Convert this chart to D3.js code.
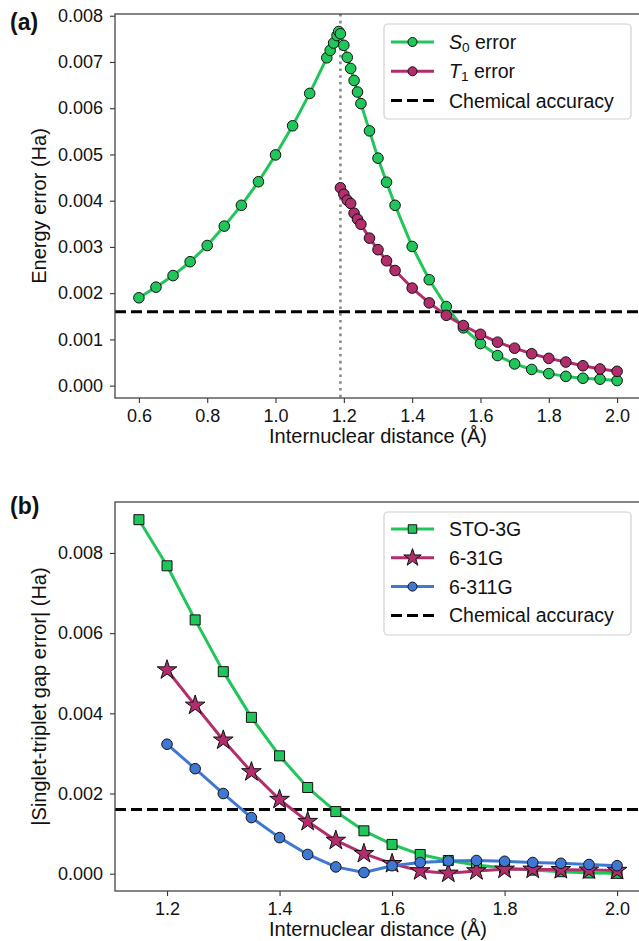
<!DOCTYPE html>
<html>
<head>
<meta charset="utf-8">
<script src="https://cdn.jsdelivr.net/npm/d3@7"></script>
<style>
  html, body { margin: 0; padding: 0; background: #fff; }
  svg { display: block; font-family: "Liberation Sans", Arial, Helvetica, sans-serif; }
</style>
</head>
<body>
<svg id="fig" width="639" height="941"></svg>
<script>
// ---- Panel (a): energy errors of S0 and T1 vs. bond length ----
const s0Dist = [0.60, 0.65, 0.70, 0.75, 0.80, 0.85, 0.90, 0.95, 1.00, 1.05, 1.10, 1.15,
  1.16, 1.17, 1.18, 1.185, 1.19, 1.20, 1.21, 1.22, 1.23, 1.24, 1.25, 1.275, 1.30, 1.325, 1.35,
  1.40, 1.45, 1.50, 1.55, 1.60, 1.65, 1.70, 1.75, 1.80, 1.85, 1.90, 1.95, 2.00];
const s0Err = [0.00190, 0.00213, 0.00238, 0.00268, 0.00303, 0.00345, 0.00390, 0.00441, 0.00499, 0.00562, 0.00632, 0.00709,
  0.00725, 0.00741, 0.00757, 0.00766, 0.00761, 0.00736, 0.00710, 0.00686, 0.00660, 0.00635, 0.00610, 0.00551, 0.00492, 0.00440, 0.00390,
  0.00301, 0.00229, 0.00171, 0.00125, 0.00091, 0.00065, 0.00047, 0.00035, 0.00026, 0.00020, 0.00016, 0.00014, 0.00011];
const t1Dist = [1.19, 1.20, 1.21, 1.22, 1.23, 1.24, 1.25, 1.275, 1.30, 1.325, 1.35,
  1.40, 1.45, 1.50, 1.55, 1.60, 1.65, 1.70, 1.75, 1.80, 1.85, 1.90, 1.95, 2.00];
const t1Err = [0.00428, 0.00414, 0.00401, 0.00394, 0.00373, 0.00360, 0.00349, 0.00319, 0.00294, 0.00270, 0.00249,
  0.00211, 0.00179, 0.00152, 0.00130, 0.00111, 0.00094, 0.00081, 0.00069, 0.00059, 0.00051, 0.00043, 0.00036, 0.00031];
const crossingDist = 1.19;
const chemAccuracy = 0.0016;
const xTicksA = [0.6, 0.8, 1.0, 1.2, 1.4, 1.6, 1.8, 2.0];
const yTicksA = [0, 0.001, 0.002, 0.003, 0.004, 0.005, 0.006, 0.007, 0.008];

// ---- Panel (b): singlet-triplet gap error per basis set ----
const stoDist = [1.15, 1.20, 1.25, 1.30, 1.35, 1.40, 1.45, 1.50, 1.55, 1.60, 1.65, 1.70, 1.75, 1.80, 1.85, 1.90, 1.95, 2.00];
const stoGap = [0.00883, 0.00768, 0.00633, 0.00504, 0.00390, 0.00294, 0.00215, 0.00155, 0.00107, 0.00073, 0.00048, 0.00033,
  0.00022, 0.00014, 0.00009, 0.00005, 0.00002, 0.00001];
const splitDist = [1.20, 1.25, 1.30, 1.35, 1.40, 1.45, 1.50, 1.55, 1.60, 1.65, 1.70, 1.75, 1.80, 1.85, 1.90, 1.95, 2.00];
const g631Gap = [0.00508, 0.00420, 0.00333, 0.00254, 0.00185, 0.00130, 0.00083, 0.00050, 0.00025, 0.00007, 0.00001,
  0.00007, 0.00011, 0.00011, 0.00010, 0.00009, 0.00008];
const g6311Gap = [0.00323, 0.00262, 0.00200, 0.00140, 0.00090, 0.00048, 0.00017, 0.00003, 0.00020, 0.00028, 0.00032,
  0.00033, 0.00031, 0.00028, 0.00026, 0.00023, 0.00020];
const xTicksB = [1.2, 1.4, 1.6, 1.8, 2.0];
const yTicksB = [0, 0.002, 0.004, 0.006, 0.008];

const GREEN = "#21c65a", MAGENTA = "#b22d6b", BLUE = "#3f78d3";
const FONT_TICK = 18, FONT_LABEL = 20, FONT_LEGEND = 19.5;

const svg = d3.select("#fig");
svg.append("rect").attr("width", 639).attr("height", 941).attr("fill", "#fff");

// matplotlib-style 5% padding around the data extent
function padded(vals) {
  const [lo, hi] = d3.extent(vals);
  const m = (hi - lo) * 0.05;
  return [lo - m, hi + m];
}

function zip(xs, ys) { return xs.map((x, i) => ({ x, y: ys[i] })); }

function drawPanel(cfg) {
  const { left, right, top, bottom } = cfg.box;
  const x = d3.scaleLinear().domain(padded(cfg.allX)).range([left, right]);
  const y = d3.scaleLinear().domain(padded(cfg.allY)).range([bottom, top]);
  const g = svg.append("g");

  // axes
  const xAxis = d3.axisBottom(x).tickValues(cfg.xTicks).tickFormat(d3.format(".1f")).tickSize(5).tickPadding(6);
  const yAxis = d3.axisLeft(y).tickValues(cfg.yTicks).tickFormat(d3.format(".3f")).tickSize(5).tickPadding(7);
  const gx = g.append("g").attr("transform", `translate(0,${bottom})`).call(xAxis);
  const gy = g.append("g").attr("transform", `translate(${left},0)`).call(yAxis);
  [gx, gy].forEach(a => {
    a.select(".domain").remove();
    a.selectAll(".tick line").attr("stroke", "#333").attr("stroke-width", 1.1);
    a.selectAll(".tick text").attr("fill", "#111").attr("font-size", FONT_TICK)
      .attr("font-family", "Liberation Sans, Arial, sans-serif");
  });

  // reference lines
  const ref = g.append("g");
  if (cfg.vline !== undefined) {
    ref.append("line").attr("x1", x(cfg.vline)).attr("x2", x(cfg.vline))
      .attr("y1", top).attr("y2", bottom)
      .attr("stroke", "#888").attr("stroke-width", 2.6).attr("stroke-dasharray", "2.6,4.2");
  }
  ref.append("line").attr("x1", left).attr("x2", right)
    .attr("y1", y(chemAccuracy)).attr("y2", y(chemAccuracy))
    .attr("stroke", "#000").attr("stroke-width", 3).attr("stroke-dasharray", "11,5");

  // series
  const line = d3.line().x(d => x(d.x)).y(d => y(d.y));
  cfg.series.forEach(s => {
    const pts = zip(s.xs, s.ys);
    g.append("path").datum(pts).attr("d", line).attr("fill", "none")
      .attr("stroke", s.color).attr("stroke-width", 3).attr("stroke-linejoin", "round");
    g.append("g").selectAll("path").data(pts).join("path")
      .attr("transform", d => `translate(${x(d.x)},${y(d.y)})`)
      .attr("d", d3.symbol().type(s.symbol).size(s.size))
      .attr("fill", s.color).attr("stroke", "#111").attr("stroke-width", 1);
  });

  // frame
  g.append("rect").attr("x", left).attr("y", top).attr("width", right - left).attr("height", bottom - top)
    .attr("fill", "none").attr("stroke", "#444").attr("stroke-width", 1.3);

  // labels
  g.append("text").attr("x", (left + right) / 2).attr("y", bottom + 45)
    .attr("text-anchor", "middle").attr("font-size", FONT_LABEL).attr("fill", "#111")
    .text("Internuclear distance (Å)");
  g.append("text").attr("transform", `translate(39,${(top + bottom) / 2}) rotate(-90)`)
    .attr("text-anchor", "middle").attr("dominant-baseline", "central")
    .attr("font-size", FONT_LABEL).attr("fill", "#111").text(cfg.yLabel);
  g.append("text").attr("x", 10).attr("y", cfg.tagY).attr("font-size", 23).attr("font-weight", "bold")
    .attr("fill", "#111").text(cfg.tag);

  // legend
  const L = cfg.legend;
  const lg = g.append("g");
  lg.append("rect").attr("x", L.x).attr("y", L.y).attr("width", L.w).attr("height", L.h)
    .attr("rx", 4).attr("fill", "#fff").attr("fill-opacity", 0.85).attr("stroke", "#d0d0d0").attr("stroke-width", 1.2);
  L.items.forEach((it, i) => {
    const cy = L.y + L.first + i * L.step;
    const x0 = L.x + 7, x1 = L.x + 50;
    if (it.dashed) {
      lg.append("line").attr("x1", x0).attr("x2", x1).attr("y1", cy).attr("y2", cy)
        .attr("stroke", "#000").attr("stroke-width", 3).attr("stroke-dasharray", "11,5");
    } else {
      lg.append("line").attr("x1", x0).attr("x2", x1).attr("y1", cy).attr("y2", cy)
        .attr("stroke", it.color).attr("stroke-width", 3);
      lg.append("path").attr("transform", `translate(${(x0 + x1) / 2},${cy})`)
        .attr("d", d3.symbol().type(it.symbol).size(it.size))
        .attr("fill", it.color).attr("stroke", "#111").attr("stroke-width", 1);
    }
    const t = lg.append("text").attr("x", L.x + 65).attr("y", cy).attr("dominant-baseline", "central")
      .attr("font-size", FONT_LEGEND).attr("fill", "#111");
    if (it.state) {
      t.append("tspan").attr("font-style", "italic").text(it.state[0]);
      t.append("tspan").attr("font-size", FONT_LEGEND * 0.7).attr("dy", 5).text(it.state[1]);
      t.append("tspan").attr("dy", -5).text(" error");
    } else {
      t.text(it.label);
    }
  });
}

drawPanel({
  box: { left: 115, right: 641, top: 14, bottom: 398 },
  allX: s0Dist.concat(t1Dist), allY: s0Err.concat(t1Err),
  xTicks: xTicksA, yTicks: yTicksA,
  vline: crossingDist,
  series: [
    { xs: s0Dist, ys: s0Err, color: GREEN, symbol: d3.symbolCircle, size: 88 },
    { xs: t1Dist, ys: t1Err, color: MAGENTA, symbol: d3.symbolCircle, size: 88 }
  ],
  yLabel: "Energy error (Ha)", tag: "(a)", tagY: 30,
  legend: { x: 384, y: 24, w: 247, h: 95, first: 18, step: 29.3,
    items: [
      { state: ["S", "0"], color: GREEN, symbol: d3.symbolCircle, size: 64 },
      { state: ["T", "1"], color: MAGENTA, symbol: d3.symbolCircle, size: 64 },
      { label: "Chemical accuracy", dashed: true }
    ] }
});

drawPanel({
  box: { left: 115, right: 641, top: 502, bottom: 891 },
  allX: stoDist.concat(splitDist), allY: stoGap.concat(g631Gap, g6311Gap),
  xTicks: xTicksB, yTicks: yTicksB,
  series: [
    { xs: stoDist, ys: stoGap, color: GREEN, symbol: d3.symbolSquare, size: 100 },
    { xs: splitDist, ys: g631Gap, color: MAGENTA, symbol: d3.symbolStar, size: 120 },
    { xs: splitDist, ys: g6311Gap, color: BLUE, symbol: d3.symbolCircle, size: 88 }
  ],
  yLabel: "|Singlet-triplet gap error| (Ha)", tag: "(b)", tagY: 514,
  legend: { x: 384, y: 512, w: 247, h: 123, first: 17, step: 28.8,
    items: [
      { label: "STO-3G", color: GREEN, symbol: d3.symbolSquare, size: 72 },
      { label: "6-31G", color: MAGENTA, symbol: d3.symbolStar, size: 95 },
      { label: "6-311G", color: BLUE, symbol: d3.symbolCircle, size: 64 },
      { label: "Chemical accuracy", dashed: true }
    ] }
});
</script>
</body>
</html>
